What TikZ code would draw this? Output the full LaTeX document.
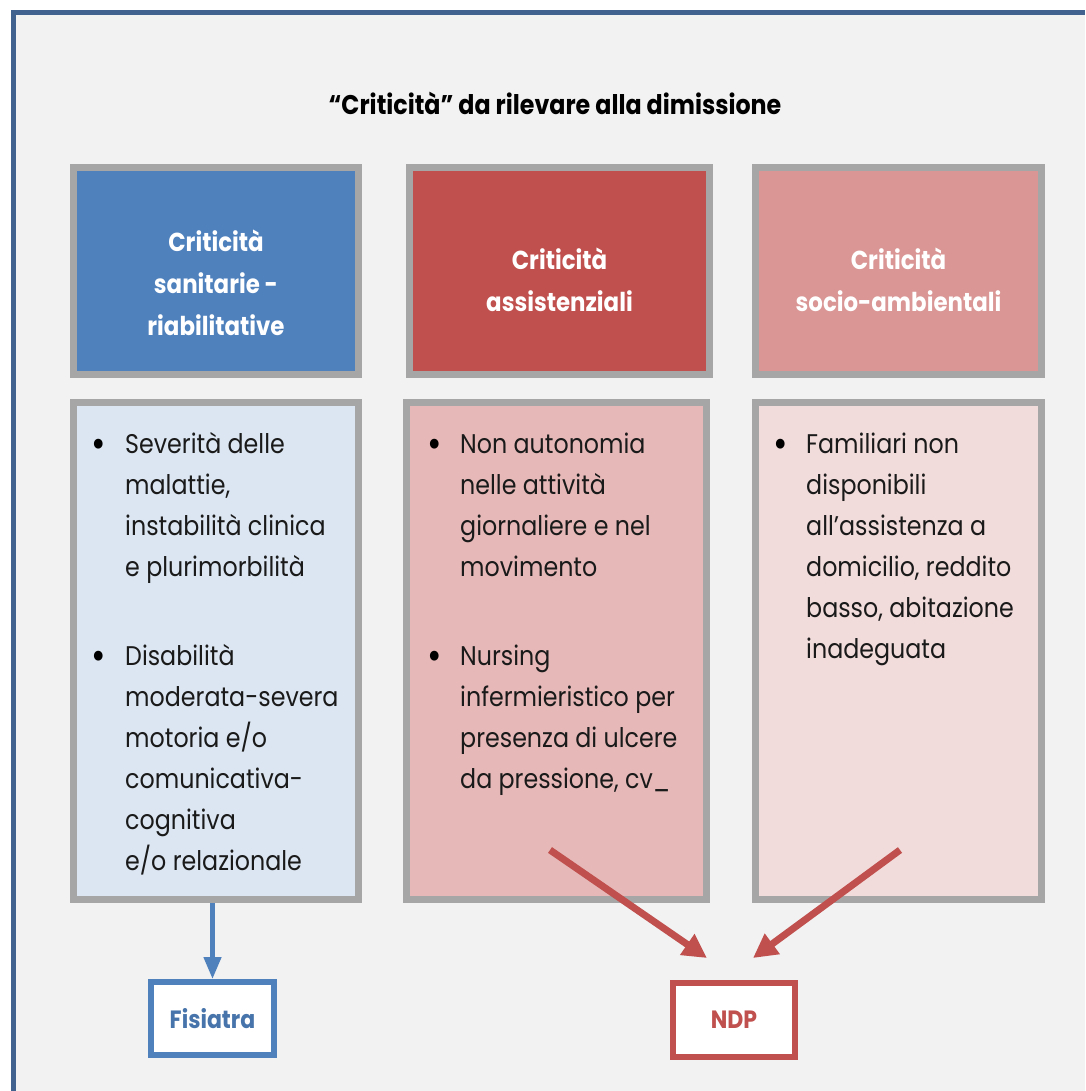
\documentclass[tikz,border=0pt]{standalone}
\usepackage{fontspec}
\setmainfont[FakeStretch=0.88]{Poppins}
\usetikzlibrary{arrows.meta,calc}
\definecolor{bgc}{HTML}{F2F2F2}
\definecolor{bordc}{HTML}{41628E}
\definecolor{framegray}{HTML}{A6A6A6}
\definecolor{blueH}{HTML}{4F81BD}
\definecolor{blueC}{HTML}{DCE6F2}
\definecolor{redH}{HTML}{C0504D}
\definecolor{redC}{HTML}{E6B9B8}
\definecolor{pinkH}{HTML}{D99694}
\definecolor{pinkC}{HTML}{F2DCDB}
\definecolor{bodytxt}{HTML}{1A1A1A}
\begin{document}
\begin{tikzpicture}[x=1pt,y=-1pt,
  hdrbox/.style={draw=framegray, line width=7pt, minimum height=207pt, inner sep=0pt},
  hdrtext/.style={text=white, align=center, inner sep=0pt,
    font=\bfseries\fontsize{26}{42}\selectfont},
  contbox/.style={draw=framegray, line width=7pt, minimum height=497pt, inner sep=0pt},
  bodytext/.style={anchor=north west, align=left, inner sep=0pt, text=bodytxt,
    font=\fontsize{27}{41}\selectfont},
  bulletmark/.style={anchor=base, inner sep=0pt, text=black,
    font=\fontsize{40}{41}\selectfont},
  outbox/.style={line width=6pt, fill=white, inner sep=0pt,
    font=\bfseries\fontsize{25}{30}\selectfont},
  barrow/.style={draw=blueH, line width=4.5pt, -{Triangle[length=22pt,width=17pt]}},
  rarrow/.style={draw=redH, line width=7pt, -{Triangle[length=24pt,width=24pt]}}
]
\useasboundingbox (0,0) rectangle (1085,1091);
\fill[white] (0,0) rectangle (1085,1091);
\fill[bgc] (13,13) rectangle (1085,1091);
\draw[bordc, line width=5pt] (13,1091) -- (13,13) -- (1085,13);

% title
\node[anchor=base, inner sep=0pt, font=\bfseries\fontsize{27}{32}\selectfont] (title) at (555,115)
  {“Criticità” da rilevare alla dimissione};

% header boxes
\node[hdrbox, fill=blueH, minimum width=285pt] (h1) at (216,271) {};
\node[hdrbox, fill=redH, minimum width=300pt] (h2) at (559.5,271) {};
\node[hdrbox, fill=pinkH, minimum width=286pt] (h3) at (898.5,271) {};
\node[hdrtext] (h1t) at ($(h1.center)+(0,12)$) {Criticità\\sanitarie -\\riabilitative};
\node[hdrtext] (h2t) at ($(h2.center)+(0,9)$) {Criticità\\assistenziali};
\node[hdrtext] (h3t) at ($(h3.center)+(0,9)$) {Criticità\\socio-ambientali};

% content boxes
\node[contbox, fill=blueC, minimum width=285pt] (c1) at (216,651) {};
\node[contbox, fill=redC, minimum width=300pt] (c2) at (556.5,651) {};
\node[contbox, fill=pinkC, minimum width=286pt] (c3) at (898.5,651) {};

% content texts
\node[bulletmark] (b11) at (99,457) {\textbullet};
\node[bodytext] (t11) at (125,424.35) {\strut Severità delle\\malattie,\\instabilità clinica\\e plurimorbilità};
\node[bulletmark] (b12) at (99,669) {\textbullet};
\node[bodytext] (t12) at (125,636.35) {\strut Disabilità\\moderata-severa\\motoria e/o\\comunicativa-\\cognitiva\\e/o relazionale};

\node[bulletmark] (b21) at (435,457) {\textbullet};
\node[bodytext] (t21) at (460,424.35) {\strut Non autonomia\\nelle attività\\giornaliere e nel\\movimento};
\node[bulletmark] (b22) at (435,669) {\textbullet};
\node[bodytext] (t22) at (460,636.35) {\strut Nursing\\infermieristico per\\presenza di ulcere\\da pressione, cv\_};

\node[bulletmark] (b31) at (781,457) {\textbullet};
\node[bodytext] (t31) at (806,424.35) {\strut Familiari non\\disponibili\\all’assistenza a\\domicilio, reddito\\basso, abitazione\\inadeguata};

% output boxes
\node[outbox, draw=blueH, text=blueH!90!black, minimum width=123pt, minimum height=73pt] (fis) at (212.5,1018.5) {Fisiatra};
\node[outbox, draw=redH, text=redH, minimum width=122pt, minimum height=74pt] (ndp) at (734,1020) {NDP};

% connectors
\draw[barrow] (fis.north |- c1.south) -- (fis.north);
\coordinate (r1) at (550,850);
\coordinate (r2) at (900,850);
\draw[rarrow] (r1) -- ($(ndp.north)+(-27,-22)$);
\draw[rarrow] (r2) -- ($(ndp.north)+(19,-22)$);
\end{tikzpicture}
\end{document}
